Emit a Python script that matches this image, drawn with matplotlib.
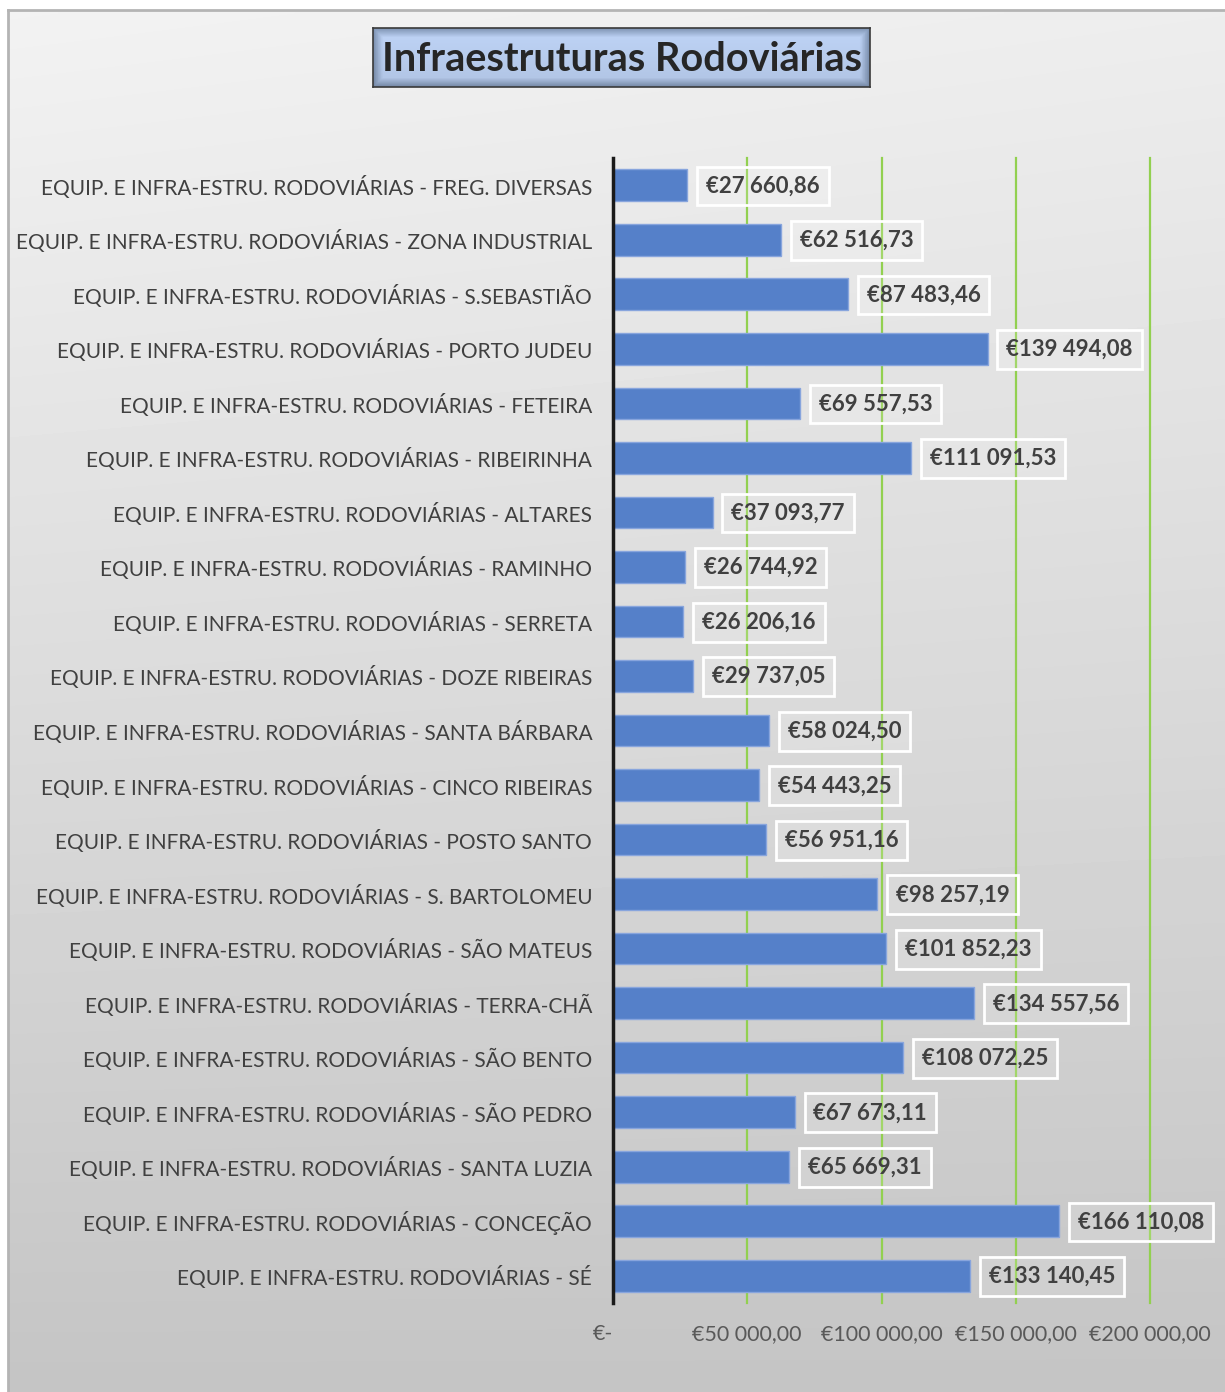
import numpy as np
import matplotlib
matplotlib.use("Agg")
import matplotlib.pyplot as plt

plt.rcParams['font.family'] = ['Lato', 'DejaVu Sans']

prefix = "EQUIP. E INFRA-ESTRU. RODOVIÁRIAS - "
places = ["FREG. DIVERSAS", "ZONA INDUSTRIAL", "S.SEBASTIÃO", "PORTO JUDEU",
          "FETEIRA", "RIBEIRINHA", "ALTARES", "RAMINHO", "SERRETA",
          "DOZE RIBEIRAS", "SANTA BÁRBARA", "CINCO RIBEIRAS", "POSTO SANTO",
          "S. BARTOLOMEU", "SÃO MATEUS", "TERRA-CHÃ", "SÃO BENTO",
          "SÃO PEDRO", "SANTA LUZIA", "CONCEÇÃO", "SÉ"]
values = [27660.86, 62516.73, 87483.46, 139494.08, 69557.53, 111091.53,
          37093.77, 26744.92, 26206.16, 29737.05, 58024.50, 54443.25,
          56951.16, 98257.19, 101852.23, 134557.56, 108072.25, 67673.11,
          65669.31, 166110.08, 133140.45]
ticks = [0, 50000, 100000, 150000, 200000]


def euro(v):
    if v == 0:
        return "€-"
    s = f"{v:,.2f}".replace(",", " ").replace(".", ",")
    return "€" + s


W, H = 1225, 1392
fig = plt.figure(figsize=(W / 100, H / 100), dpi=100)
fig.patch.set_facecolor("white")

# background panel with gradient
bg = fig.add_axes([8 / W, 0, 1 - 8 / W, 1 - 10 / H], zorder=-5)
yy, xx = np.mgrid[0:1:200j, 0:1:200j]
shade = 0.95 - 0.18 * yy - 0.02 * xx * (1 - yy)
bg.imshow(shade, cmap="gray", vmin=0, vmax=1, aspect="auto",
          extent=[0, 1, 1, 0], interpolation="bilinear")
bg.set_xlim(0, 1)
bg.set_ylim(1, 0)
bg.set_xticks([])
bg.set_yticks([])
for s in ["right", "bottom"]:
    bg.spines[s].set_visible(False)
for s in ["left", "top"]:
    bg.spines[s].set_color("#b4b4b4")
    bg.spines[s].set_linewidth(2)

# title box
tb = fig.add_axes([373 / W, (H - 87) / H, 497 / W, 59 / H], zorder=2)
ty, tx = np.mgrid[0:1:60j, 0:1:300j]
d = np.minimum(np.minimum(tx * 497, (1 - tx) * 497), np.minimum(ty * 59, (1 - ty) * 59))
edge = np.clip(d / 9.0, 0, 1)
base = np.array([0.72, 0.80, 0.93])
dark = np.array([0.48, 0.56, 0.68])
img = dark + (base - dark) * edge[..., None]
img = img * (1.04 - 0.08 * ty[..., None])
tb.imshow(np.clip(img, 0, 1), aspect="auto", extent=[0, 1, 0, 1])
tb.set_xticks([])
tb.set_yticks([])
for s in tb.spines.values():
    s.set_color("#3a3a3a")
    s.set_linewidth(1.2)
tb.text(0.5, 0.47, "Infraestruturas Rodoviárias", ha="center", va="center",
        fontsize=28.5, fontweight="bold", color="#262626", transform=tb.transAxes)

# main chart
ax = fig.add_axes([613 / W, (H - 1303) / H, (1150 - 613) / W, (1303 - 158) / H])
ax.set_facecolor("none")
y = np.arange(len(places))
ax.barh(y, values, height=0.58, color="#5580c9", edgecolor="#88a5dd",
        linewidth=1, zorder=3)
ax.set_xlim(0, 200000)
ax.set_ylim(len(places) - 0.5, -0.5)

for t in ticks[1:]:
    ax.axvline(t, color="#92d050", linewidth=1.6, zorder=1, clip_on=False)

ax.set_yticks(y)
ax.set_yticklabels([prefix + p for p in places], fontsize=15, color="#404040")
ax.set_xticks(ticks)
ax.set_xticklabels([euro(t) for t in ticks], fontsize=15.5, color="#595959")
ax.tick_params(axis="y", length=0, pad=15)
ax.tick_params(axis="x", length=0, pad=15)
ax.get_xticklabels()[0].set_horizontalalignment("right")
for s in ["top", "right", "bottom"]:
    ax.spines[s].set_visible(False)
ax.spines["left"].set_color("#1a1a1a")
ax.spines["left"].set_linewidth(2.5)
ax.spines["left"].set_zorder(5)

for yi, v in zip(y, values):
    ax.annotate(euro(v), xy=(v, yi), xytext=(13.5, -0.5), textcoords="offset points",
                ha="left", va="center", fontsize=16, fontweight="bold",
                color="#404040", annotation_clip=False, zorder=4,
                bbox=dict(boxstyle="square,pad=0.4", facecolor=(1, 1, 1, 0.15),
                          edgecolor="white", linewidth=2))

fig.savefig("out.png", dpi=100)
